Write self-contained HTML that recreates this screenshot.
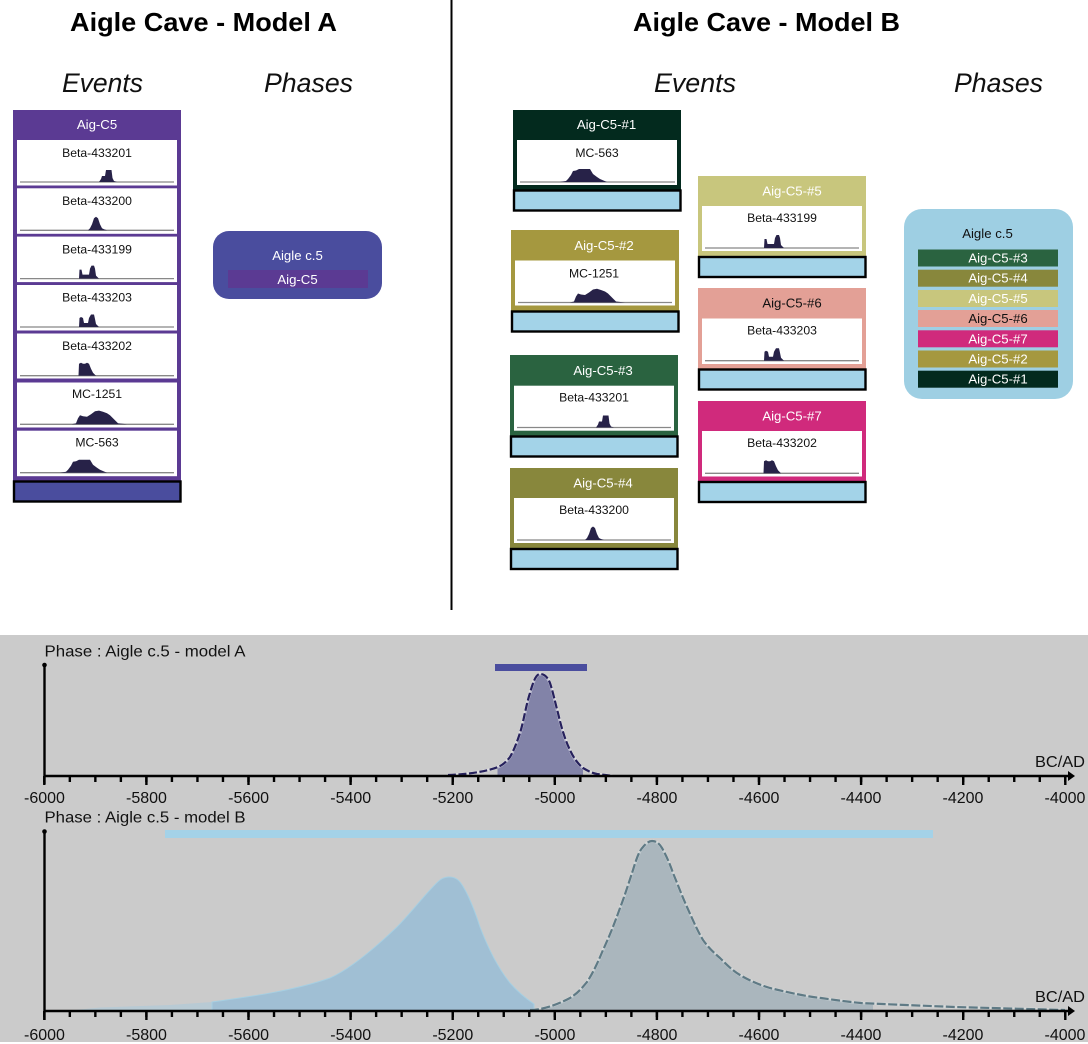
<!DOCTYPE html>
<html>
<head>
<meta charset="utf-8">
<style>
html,body{margin:0;padding:0;background:#fff}
svg{display:block}
text{font-family:"Liberation Sans",sans-serif}
.c{font-size:12.2px;text-anchor:middle;fill:#111}
.h{font-size:13.2px;text-anchor:middle;fill:#fff}
.a{font-size:16px;text-anchor:middle;fill:#111}
.t{font-size:15.6px;fill:#111}
.ti{font-size:26px;font-weight:bold;fill:#000}
.it{font-size:26.5px;font-style:italic;fill:#111}
.l{stroke:#888;stroke-width:1.3}
.bar{stroke:#000;stroke-width:2.4;fill:#a3d3e8}
</style>
</head>
<body>
<svg width="1088" height="1044" viewBox="0 0 1088 1044" xmlns="http://www.w3.org/2000/svg">
<defs>
<path id="h201" fill="#272248" d="M86 0L88 -3L89 -6L92 -6L93 -12L98.500 -12L99.500 -4L101 -1L104 0Z"/>
<path id="h200" fill="#272248" d="M75 0L77 -2L79 -6L81 -12L83 -13.500L85 -12L87 -6L89 -2L91 -1L94 0Z"/>
<path id="h199" fill="#272248" d="M66 0L66.500 -9L68.500 -9L69.500 -4L76 -4L77 -10L78.500 -13L81 -13L82 -10L83 -3L86 0Z"/>
<path id="h203" fill="#272248" d="M66 0L66.500 -9L68 -10L70 -9L71 -4L75 -4L76 -9L78 -12.500L81 -12.500L82 -8L83 -3L86 0Z"/>
<path id="h202" fill="#272248" d="M65.500 0L66 -12L68 -13L70 -12L72 -12L74 -13L76 -12L78 -7L80 -3L83 0Z"/>
<path id="h1251" fill="#272248" d="M58.700 0L63 -1L65 -6L67 -9L70 -8L74 -7.500L78 -10L82 -13L86 -13.700L90 -12.500L94 -11L97 -9L100 -6L103 -3L105 -1L114 0Z"/>
<path id="h563" fill="#272248" d="M47 0L53 -1L55 -3L58 -7L60 -11L63 -11.500L66 -13L77 -13L80 -8L84 -5L87 -3L94 0Z"/>
<clipPath id="ca"><rect x="497.5" y="660" width="85.5" height="120"/></clipPath>
<clipPath id="cb2"><rect x="534" y="830" width="339" height="190"/></clipPath>
</defs>

<rect width="1088" height="1044" fill="#fff"/>

<!-- Titles -->
<text class="ti" x="70" y="31" textLength="267" lengthAdjust="spacingAndGlyphs">Aigle Cave - Model A</text>
<text class="ti" x="633" y="31" textLength="267" lengthAdjust="spacingAndGlyphs">Aigle Cave - Model B</text>
<text class="it" x="62" y="92" textLength="81" lengthAdjust="spacingAndGlyphs">Events</text>
<text class="it" x="264" y="92" textLength="89" lengthAdjust="spacingAndGlyphs">Phases</text>
<text class="it" x="654" y="92" textLength="82" lengthAdjust="spacingAndGlyphs">Events</text>
<text class="it" x="954" y="92" textLength="89" lengthAdjust="spacingAndGlyphs">Phases</text>
<rect x="450.5" y="0" width="2" height="610" fill="#000"/>

<!-- Model A events -->
<rect x="13" y="110" width="168" height="372" fill="#5b3a93"/>
<text class="h" x="97" y="129">Aig-C5</text>
<rect x="17" y="140" width="160" height="45.5" fill="#fff"/>
<rect x="17" y="188.3" width="160" height="45.5" fill="#fff"/>
<rect x="17" y="236.6" width="160" height="45.5" fill="#fff"/>
<rect x="17" y="285" width="160" height="45.5" fill="#fff"/>
<rect x="17" y="333.5" width="160" height="45" fill="#fff"/>
<rect x="17" y="382.500" width="160" height="45" fill="#fff"/>
<rect x="17" y="430.7" width="160" height="45.500" fill="#fff"/>
<text class="c" x="97" y="157">Beta-433201</text>
<text class="c" x="97" y="205">Beta-433200</text>
<text class="c" x="97" y="253.5">Beta-433199</text>
<text class="c" x="97" y="301.5">Beta-433203</text>
<text class="c" x="97" y="350">Beta-433202</text>
<text class="c" x="97" y="398">MC-1251</text>
<text class="c" x="97" y="446.5">MC-563</text>
<line class="l" x1="20" x2="174" y1="182" y2="182"/>
<line class="l" x1="20" x2="174" y1="230.3" y2="230.3"/>
<line class="l" x1="20" x2="174" y1="278.6" y2="278.6"/>
<line class="l" x1="20" x2="174" y1="327" y2="327"/>
<line class="l" x1="20" x2="174" y1="375.7" y2="375.7"/>
<line class="l" x1="20" x2="174" y1="424.3" y2="424.3"/>
<line class="l" x1="20" x2="174" y1="472.7" y2="472.7"/>
<use href="#h201" x="13" y="182"/>
<use href="#h200" x="13" y="230.3"/>
<use href="#h199" x="13" y="278.6"/>
<use href="#h203" x="13" y="327"/>
<use href="#h202" x="13" y="375.7"/>
<use href="#h1251" x="13" y="424.3"/>
<use href="#h563" x="13" y="472.700"/>
<rect x="14" y="481.5" width="166.5" height="20" fill="#4a4d9e" stroke="#000" stroke-width="2.400"/>

<!-- Model A phase -->
<rect x="213" y="231" width="169" height="68" rx="16" fill="#4a4d9e"/>
<text class="h" x="297.500" y="260">Aigle c.5</text>
<rect x="228" y="270" width="140" height="18" fill="#5b3a93"/>
<text class="h" x="297.500" y="284">Aig-C5</text>

<!-- Model B event 1 -->
<rect x="513" y="110" width="168" height="80" fill="#032a1e"/>
<text class="h" x="606.500" y="129">Aig-C5-#1</text>
<rect x="517" y="140" width="160" height="45" fill="#fff"/>
<text class="c" x="597" y="157">MC-563</text>
<line class="l" x1="520" x2="675" y1="182" y2="182"/>
<use href="#h563" x="513" y="182"/>
<rect class="bar" x="514" y="190.500" width="166.500" height="20"/>

<!-- event 2 -->
<rect x="511" y="230" width="168" height="81" fill="#a5983f"/>
<text class="h" x="604" y="250">Aig-C5-#2</text>
<rect x="515" y="260.500" width="160" height="45" fill="#fff"/>
<text class="c" x="594" y="277.500">MC-1251</text>
<line class="l" x1="518" x2="672" y1="302.500" y2="302.500"/>
<use href="#h1251" x="511" y="302.500"/>
<rect class="bar" x="512" y="311.500" width="166.500" height="20"/>

<!-- event 3 -->
<rect x="510" y="355" width="168" height="81" fill="#2a6340"/>
<text class="h" x="603" y="375">Aig-C5-#3</text>
<rect x="514" y="385.700" width="160" height="45" fill="#fff"/>
<text class="c" x="594" y="401.700">Beta-433201</text>
<line class="l" x1="517" x2="671" y1="427.500" y2="427.500"/>
<use href="#h201" x="510" y="427.500"/>
<rect class="bar" x="511" y="436.500" width="166.500" height="20"/>

<!-- event 4 -->
<rect x="510" y="468" width="168" height="81" fill="#88873c"/>
<text class="h" x="603" y="487.500">Aig-C5-#4</text>
<rect x="514" y="498" width="160" height="45" fill="#fff"/>
<text class="c" x="594" y="514">Beta-433200</text>
<line class="l" x1="517" x2="671" y1="540" y2="540"/>
<use href="#h200" x="510" y="540"/>
<rect class="bar" x="511" y="549" width="166.500" height="20"/>

<!-- event 5 -->
<rect x="698" y="176" width="168" height="81" fill="#c8c67d"/>
<text class="h" x="792" y="195.500">Aig-C5-#5</text>
<rect x="702" y="206" width="160" height="45" fill="#fff"/>
<text class="c" x="782" y="222">Beta-433199</text>
<line class="l" x1="705" x2="859" y1="248" y2="248"/>
<use href="#h199" x="698" y="248"/>
<rect class="bar" x="699" y="257" width="166.500" height="20"/>

<!-- event 6 -->
<rect x="698" y="288" width="168" height="81" fill="#e3a096"/>
<text class="h" x="792" y="307.700" style="fill:#111">Aig-C5-#6</text>
<rect x="702" y="318.500" width="160" height="45.500" fill="#fff"/>
<text class="c" x="782" y="334.500">Beta-433203</text>
<line class="l" x1="705" x2="859" y1="360.700" y2="360.700"/>
<use href="#h203" x="698" y="360.700"/>
<rect class="bar" x="699" y="369.500" width="166.500" height="20"/>

<!-- event 7 -->
<rect x="698" y="401" width="168" height="81" fill="#d02a7c"/>
<text class="h" x="792" y="420.500">Aig-C5-#7</text>
<rect x="702" y="431" width="160" height="45.500" fill="#fff"/>
<text class="c" x="782" y="447">Beta-433202</text>
<line class="l" x1="705" x2="859" y1="473.300" y2="473.300"/>
<use href="#h202" x="698" y="473.300"/>
<rect class="bar" x="699" y="482" width="166.500" height="20"/>

<!-- Model B phase -->
<rect x="904" y="209" width="169" height="190" rx="18" fill="#9ecfe3"/>
<text class="h" x="987.500" y="238" style="fill:#111">Aigle c.5</text>
<rect x="918" y="249.500" width="140" height="17" fill="#2a6340"/>
<rect x="918" y="269.700" width="140" height="17" fill="#88873c"/>
<rect x="918" y="290" width="140" height="17" fill="#c8c67d"/>
<rect x="918" y="310" width="140" height="17" fill="#e3a096"/>
<rect x="918" y="330.300" width="140" height="17" fill="#d02a7c"/>
<rect x="918" y="350.500" width="140" height="17" fill="#a5983f"/>
<rect x="918" y="370.700" width="140" height="17" fill="#032a1e"/>
<text class="h" x="998" y="262.500">Aig-C5-#3</text>
<text class="h" x="998" y="282.700">Aig-C5-#4</text>
<text class="h" x="998" y="303">Aig-C5-#5</text>
<text class="h" x="998" y="323" style="fill:#111">Aig-C5-#6</text>
<text class="h" x="998" y="343.300">Aig-C5-#7</text>
<text class="h" x="998" y="363.500">Aig-C5-#2</text>
<text class="h" x="998" y="383.700">Aig-C5-#1</text>

<!-- Grey panel -->
<rect x="0" y="635" width="1088" height="407" fill="#cbcbcb"/>

<!-- Chart A -->
<text class="t" x="44.500" y="656.500" textLength="201" lengthAdjust="spacingAndGlyphs">Phase : Aigle c.5 - model A</text>
<rect x="495" y="664" width="92" height="7" fill="#4a4d9e"/>
<path clip-path="url(#ca)" fill="#8283a8" d="M448 776L448 775C465 774.500 485 772 498 767C503 765 507 761 510 757C514 750 517 742 520 733C524 720 526 705 530 693C533 682 536 674 540 674C545 674 548 678 550 683C553 692 555 702 558 713C561 726 565 740 570 750C573 757 578 764 583 768C588 771 592 773 597 774L613 776Z"/>
<path fill="none" stroke="#f2f2f6" stroke-width="3" opacity=".5" d="M448 775C465 774.500 485 772 498 767C503 765 507 761 510 757C514 750 517 742 520 733C524 720 526 705 530 693C533 682 536 674 540 674C545 674 548 678 550 683C553 692 555 702 558 713C561 726 565 740 570 750C573 757 578 764 583 768C588 771 592 773 597 774L613 776"/>
<path fill="none" stroke="#26215c" stroke-width="2.200" stroke-dasharray="8 2.500" d="M448 775C465 774.500 485 772 498 767C503 765 507 761 510 757C514 750 517 742 520 733C524 720 526 705 530 693C533 682 536 674 540 674C545 674 548 678 550 683C553 692 555 702 558 713C561 726 565 740 570 750C573 757 578 764 583 768C588 771 592 773 597 774L613 776"/>
<line x1="44.500" x2="44.500" y1="665" y2="784" stroke="#000" stroke-width="2.400"/>
<circle cx="44.500" cy="665" r="2.300" fill="#000"/>
<line x1="43.500" x2="1070" y1="776" y2="776" stroke="#000" stroke-width="2.400"/>
<line x1="43.100" x2="1066.500" y1="779" y2="779" stroke="#000" stroke-width="6" stroke-dasharray="2.400 23.125"/>
<line x1="43.100" x2="1066.500" y1="780.500" y2="780.500" stroke="#000" stroke-width="9" stroke-dasharray="2.400 99.700"/>
<path d="M1068 771L1075 776L1068 781Z" fill="#000"/>
<text class="t" x="1035" y="767" textLength="50" lengthAdjust="spacingAndGlyphs">BC/AD</text>
<text class="a" x="44.500" y="803">-6000</text>
<text class="a" x="146.500" y="803">-5800</text>
<text class="a" x="248.600" y="803">-5600</text>
<text class="a" x="350.700" y="803">-5400</text>
<text class="a" x="452.800" y="803">-5200</text>
<text class="a" x="554.900" y="803">-5000</text>
<text class="a" x="657" y="803">-4800</text>
<text class="a" x="759" y="803">-4600</text>
<text class="a" x="861" y="803">-4400</text>
<text class="a" x="963" y="803">-4200</text>
<text class="a" x="1065" y="803">-4000</text>

<!-- Chart B -->
<text class="t" x="44.500" y="822.500" textLength="201" lengthAdjust="spacingAndGlyphs">Phase : Aigle c.5 - model B</text>
<rect x="165" y="830" width="768" height="8" fill="#a4d2e8"/>
<path fill="#b8cad4" d="M75 1011L75 1010L100 1007.500L170 1005L212 1002L212 1011Z"/>
<path fill="#a0bfd4" stroke="#a6cfe2" stroke-width="1" d="M212 1011L212 1002C240 998 290 992 330 978C350 969 375 948 397 927C412 912 430 888 440 880C444 877 452 875 458 880C464 885 473 905 480 927C488 948 498 968 510 983C517 991 525 998 534 1004L534 1011Z"/>
<path clip-path="url(#cb2)" fill="#aab6bd" d="M530 1011L530 1010C540 1010 555 1006 570 998C578 993 582 988 587 982C593 973 598 962 603 950C610 935 615 922 620 908C625 895 629 882 633 870C636 860 639 851 643 847C647 842 650 841 652 841C656 841 659 843 662 848C666 855 670 864 673 873C678 885 682 896 687 907C692 918 697 930 703 940C708 947 713 952 720 958C727 965 733 971 740 975C750 981 760 985 770 988C790 993 810 997 821 998C835 1000 850 1002 861 1003C880 1004 930 1006 955 1007L1065 1010L1065 1011Z"/>
<path fill="none" stroke="#e4eaec" stroke-width="3" opacity=".4" d="M530 1010C540 1010 555 1006 570 998C578 993 582 988 587 982C593 973 598 962 603 950C610 935 615 922 620 908C625 895 629 882 633 870C636 860 639 851 643 847C647 842 650 841 652 841C656 841 659 843 662 848C666 855 670 864 673 873C678 885 682 896 687 907C692 918 697 930 703 940C708 947 713 952 720 958C727 965 733 971 740 975C750 981 760 985 770 988C790 993 810 997 821 998C835 1000 850 1002 861 1003C880 1004 930 1006 955 1007L1065 1010"/>
<path fill="none" stroke="#5f7a85" stroke-width="2.200" stroke-dasharray="9 2.500" d="M530 1010C540 1010 555 1006 570 998C578 993 582 988 587 982C593 973 598 962 603 950C610 935 615 922 620 908C625 895 629 882 633 870C636 860 639 851 643 847C647 842 650 841 652 841C656 841 659 843 662 848C666 855 670 864 673 873C678 885 682 896 687 907C692 918 697 930 703 940C708 947 713 952 720 958C727 965 733 971 740 975C750 981 760 985 770 988C790 993 810 997 821 998C835 1000 850 1002 861 1003C880 1004 930 1006 955 1007L1065 1010"/>
<line x1="44.500" x2="44.500" y1="832" y2="1020" stroke="#000" stroke-width="2.400"/>
<circle cx="44.500" cy="831.500" r="2.300" fill="#000"/>
<line x1="43.500" x2="1070" y1="1011" y2="1011" stroke="#000" stroke-width="2.400"/>
<line x1="43.100" x2="1066.500" y1="1014" y2="1014" stroke="#000" stroke-width="6" stroke-dasharray="2.400 23.125"/>
<line x1="43.100" x2="1066.500" y1="1015.500" y2="1015.500" stroke="#000" stroke-width="9" stroke-dasharray="2.400 99.700"/>
<path d="M1068 1006L1075 1011L1068 1016Z" fill="#000"/>
<text class="t" x="1035" y="1002" textLength="50" lengthAdjust="spacingAndGlyphs">BC/AD</text>
<text class="a" x="44.500" y="1040">-6000</text>
<text class="a" x="146.500" y="1040">-5800</text>
<text class="a" x="248.600" y="1040">-5600</text>
<text class="a" x="350.700" y="1040">-5400</text>
<text class="a" x="452.800" y="1040">-5200</text>
<text class="a" x="554.900" y="1040">-5000</text>
<text class="a" x="657" y="1040">-4800</text>
<text class="a" x="759" y="1040">-4600</text>
<text class="a" x="861" y="1040">-4400</text>
<text class="a" x="963" y="1040">-4200</text>
<text class="a" x="1065" y="1040">-4000</text>
</svg>
</body>
</html>
